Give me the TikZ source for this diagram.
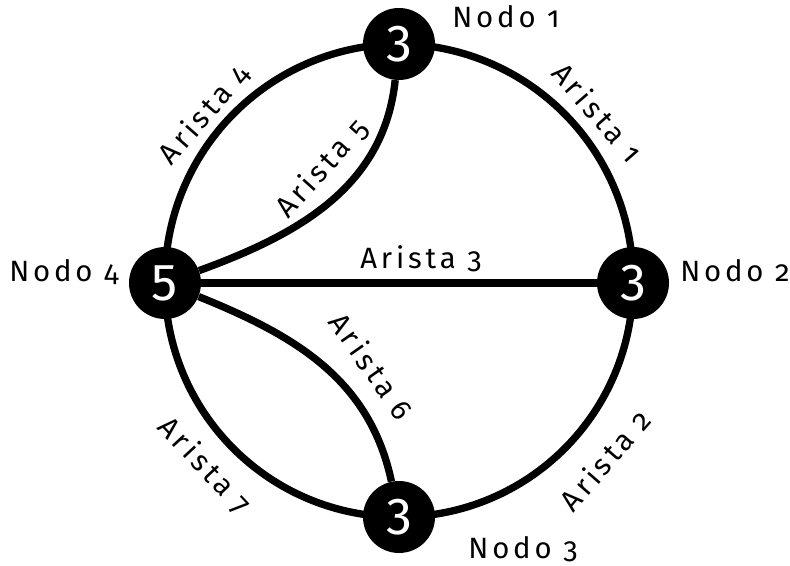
\documentclass[tikz,border=0pt]{standalone}
\usepackage{fontspec}
\setmainfont{Fira Sans}[Numbers=OldStyle, LetterSpace=13]
\newfontfamily\numfont{Fira Sans}[Numbers=Lining]
\usetikzlibrary{backgrounds}
\begin{document}
\begin{tikzpicture}[x=0.75pt, y=0.75pt,
  vert/.style={circle, fill=black, minimum size=54pt, inner sep=0pt, text=white,
    font=\numfont\fontsize{39}{39}\selectfont},
  edge/.style={line width=5.5pt},
  lbl/.style={font=\fontsize{22}{23}\selectfont, inner sep=0pt}]
\useasboundingbox (0,0) rectangle (790,565);
% vertices
\node[vert] (n1) at (399,521) {3};
\node[vert] (n2) at (633,282) {3};
\node[vert] (n3) at (399,48) {3};
\node[vert] (n4) at (165,282) {5};
% vertex labels
\node[lbl] (t1) at (506,548) {Nodo 1};
\node[lbl] (t2) at (735,294) {Nodo 2};
\node[lbl] (t3) at (523,16) {Nodo 3};
\node[lbl] (t4) at (64,293) {Nodo 4};
% edges
\begin{scope}[on background layer]
\draw[edge] (n1.center) to[bend left=45] (n2.center);
\draw[edge] (n2.center) to[bend left=45] (n3.center);
\draw[edge] (n3.center) to[bend left=45] (n4.center);
\draw[edge] (n4.center) to[bend left=45] (n1.center);
\draw[edge] (n4) -- (n2);
\draw[edge] (n4) to[out=20, in=-96] (n1);
\draw[edge] (n4) to[out=-22, in=102] (n3);
\end{scope}
% edge labels
\node[lbl, rotate=-49] (a1) at (598,453) {Arista 1};
\node[lbl, rotate=49] (a2) at (605,105) {Arista 2};
\node[lbl] (a3) at (421,306) {Arista 3};
\node[lbl, rotate=49] (a4) at (204,451) {Arista 4};
\node[lbl, rotate=48] (a5) at (322,397) {Arista 5};
\node[lbl, rotate=-55] (a6) at (372,199) {Arista 6};
\node[lbl, rotate=-47] (a7) at (205,99) {Arista 7};
\end{tikzpicture}
\end{document}
